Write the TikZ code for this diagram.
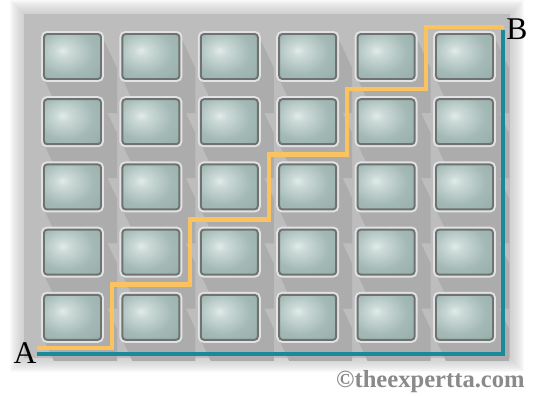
\documentclass[tikz,border=0pt]{standalone}
\usepackage{fontspec}
\setmainfont{Liberation Serif}
\usetikzlibrary{positioning, calc}

\definecolor{boardgray}{HTML}{BDBDBD}
\definecolor{shadowgray}{HTML}{ACACAC}
\definecolor{padbase}{HTML}{8EA8A4}
\definecolor{padlight}{HTML}{E2ECEA}
\definecolor{padrim}{HTML}{6E7372}
\definecolor{padglow}{HTML}{E2E2E2}
\definecolor{routeorange}{HTML}{FBC35F}
\definecolor{routeteal}{HTML}{1A8A9B}
\definecolor{markgray}{HTML}{8A8A8A}

\pgfdeclareradialshading{padshade}{\pgfpoint{-9bp}{7bp}}{color(0bp)=(padlight); color(6bp)=(padlight!75!padbase); color(25bp)=(padbase!75!padlight); color(50bp)=(padbase); color(80bp)=(padbase)}

\begin{document}
\begin{tikzpicture}[
		x=0.02cm, y=-0.02cm,
		pad/.style={draw=padrim, line width=1.1pt, rounded corners=1.8pt, shading=padshade,
			minimum width=1.14cm, minimum height=0.9cm, inner sep=0pt,
			preaction={draw=padglow, line width=3.4pt}},
		endlabel/.style={font=\fontsize{18}{20}\selectfont, inner sep=0pt},
		shortpath/.style={routeorange, line width=2.3pt},
		longpath/.style={routeteal, line width=2.3pt}
		]
		\useasboundingbox (0,0) rectangle (535,396);
		
		% ----- Board -----
		\foreach \k in {1,...,14}
			\fill[boardgray, opacity=0.08] (24-\k,14-\k) rectangle (510+\k,358+\k);
		\fill[boardgray] (24,14) rectangle (510,358);
		
		% Shadows
		\begin{scope}
			\clip (22,12) rectangle (512,360);
			\foreach \r in {0,...,4}
				\foreach \c in {0,...,5} {
					\pgfmathsetmacro\px{72.5+78.4*\c}
					\pgfmathsetmacro\py{56.5+65.2*\r}
					\fill[shadowgray] (\px-28.5,\py-22.5) -- (\px+28.5,\py-22.5) -- ++(16,34) -- ++(0,45) -- ++(-57,0) -- (\px-28.5,\py+22.5) -- cycle;
				}
		\end{scope}
		
		% Pads
		\foreach \r in {0,...,4}
			\foreach \c in {0,...,5}
				\node[pad] (p-\r-\c) at (72.5+78.4*\c, 56.5+65.2*\r) {};
		
		% ----- Ends -----
		\node[endlabel] (A) at (25,353) {A};
		\node[endlabel] (B) at (517,29) {B};
		
		% Step corners
		\coordinate (s0) at (37,348);
		\coordinate (s1) at (112,284.5);
		\coordinate (s2) at (190,219.5);
		\coordinate (s3) at (269,154.5);
		\coordinate (s4) at (347,89);
		\coordinate (s5) at (426,27);
		\coordinate (s6) at (504,27);
		\coordinate (t0) at (37,354);
		\coordinate (t1) at (503,30);
		
		% Routes
		\draw[longpath] (t0) -| (t1);
		\draw[shortpath] (s0) -| (s1) -| (s2) -| (s3) -| (s4) -| (s5) -- (s6);
		
		% Mark
		\node[text=markgray, font=\fontsize{14}{16}\selectfont\bfseries, anchor=east, inner sep=0pt] (mark) at (525,382) {\textcopyright theexpertta.com};
		
	\end{tikzpicture}
\end{document}
